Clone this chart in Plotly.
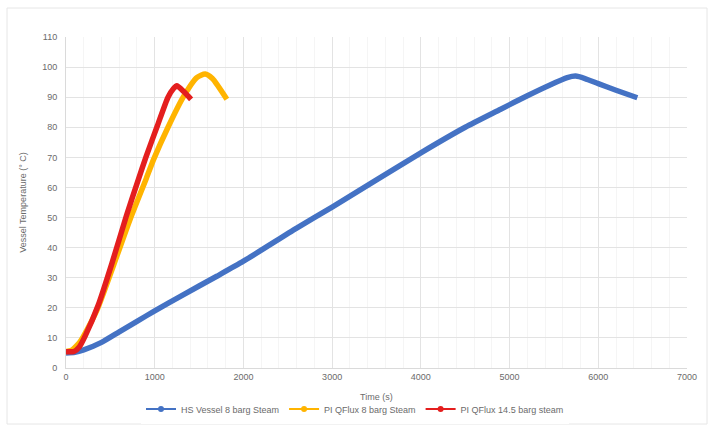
import plotly.graph_objects as go

# Data
hs_time = [0, 100, 200, 400, 600, 800, 1000, 1300, 1700, 2000, 2600, 3000, 3500, 4000,
           4500, 4900, 5200, 5450, 5650, 5745, 5850, 6000, 6200, 6440]
hs_temp = [5.0, 5.2, 6.0, 8.5, 12.0, 15.5, 19.0, 24.0, 30.5, 35.5, 46.5, 53.5, 62.5, 71.5,
           80.0, 86.0, 90.5, 94.0, 96.5, 97.0, 96.2, 94.5, 92.3, 89.8]

q8_time = [0, 60, 160, 345, 540, 730, 905, 990, 1150, 1321, 1474, 1569, 1650, 1813]
q8_temp = [5.5, 5.8, 8.8, 19.0, 34.5, 50.0, 63.0, 69.5, 80.0, 90.0, 96.5, 97.7, 96.2, 89.3]

q145_time = [0, 90, 150, 214, 365, 520, 680, 820, 900, 1030, 1150, 1210, 1249, 1330, 1410]
q145_temp = [5.4, 5.5, 7.0, 10.5, 21.0, 35.0, 50.5, 63.0, 70.0, 80.5, 90.0, 92.8, 93.8, 91.8, 89.3]

series_names = ["HS Vessel 8 barg Steam", "PI QFlux 8 barg Steam", "PI QFlux 14.5 barg steam"]
series_colors = ["#4472C4", "#FFB400", "#E41E1E"]
x_title = "Time (s)"
y_title = "Vessel Temperature (° C)"

fig = go.Figure()
for t, v, name, col in [(hs_time, hs_temp, series_names[0], series_colors[0]),
                        (q8_time, q8_temp, series_names[1], series_colors[1]),
                        (q145_time, q145_temp, series_names[2], series_colors[2])]:
    fig.add_trace(go.Scatter(x=t, y=v, name=name, mode="lines", showlegend=False,
                             line=dict(color=col, width=5.5, shape="spline", smoothing=0.6)))
for name, col in zip(series_names, series_colors):
    fig.add_trace(go.Scatter(x=[None], y=[None], name=name, mode="lines+markers",
                             line=dict(color=col, width=2), marker=dict(color=col, size=6)))

fig.update_layout(
    width=710, height=427,
    margin=dict(l=66, r=23, t=37, b=59),
    paper_bgcolor="white", plot_bgcolor="white",
    font=dict(family="Liberation Sans, Arial, sans-serif", size=9, color="#6b6b6b"),
    showlegend=True,
    legend=dict(orientation="h", x=0.5, xanchor="center", xref="container",
                y=(427 - 409) / 427, yanchor="middle", yref="container",
                font=dict(size=9, color="#6b6b6b"), itemwidth=30, tracegroupgap=0),
    xaxis=dict(range=[0, 7000], dtick=1000, tick0=0, showgrid=True, gridcolor="#E3E3E3",
               gridwidth=1, zeroline=False, showline=True, linecolor="#DADADA",
               ticks="", tickfont=dict(size=9, color="#6b6b6b"), automargin=False,
               minor=dict(dtick=200, showgrid=True, gridcolor="#F5F5F5", gridwidth=1)),
    yaxis=dict(range=[0, 110], dtick=10, tick0=0, showgrid=True, gridcolor="#E3E3E3",
               gridwidth=1, zeroline=False, showline=True, linecolor="#DADADA",
               ticks="", tickfont=dict(size=9, color="#6b6b6b"), automargin=False,
               ticklabelstandoff=6,
               title=dict(text=y_title, font=dict(size=9, color="#6b6b6b"), standoff=14)),
)

fig.add_annotation(text=x_title, xref="paper", yref="paper", x=0.5, y=(368 - 397) / 331,
                   xanchor="center", yanchor="middle", showarrow=False,
                   font=dict(size=9, color="#6b6b6b"))

fig.add_shape(type="rect", xref="paper", yref="paper",
              x0=(7 - 66) / 621, x1=(707 - 66) / 621,
              y0=(368 - 424) / 331, y1=(368 - 8) / 331,
              line=dict(color="#E6E6E6", width=1), fillcolor="rgba(0,0,0,0)", layer="below")

fig.write_html("out.html", config={"displayModeBar": False},
               post_script="document.body.style.margin='0';document.body.style.overflow='hidden';")
